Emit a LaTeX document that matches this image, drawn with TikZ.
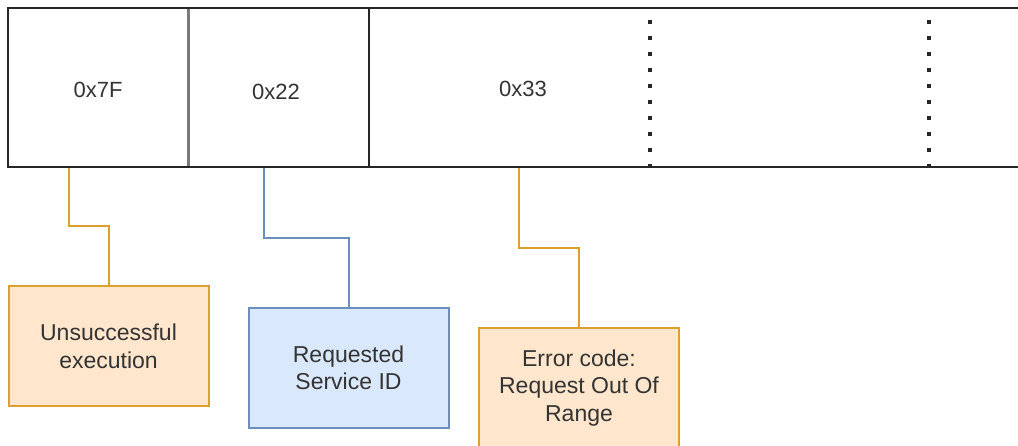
\documentclass[tikz,border=0pt]{standalone}
\usepackage{fontspec}
\setmainfont{Liberation Sans}
\definecolor{barline}{HTML}{262626}
\definecolor{sepgray}{HTML}{7A7A7A}
\definecolor{txt}{HTML}{333333}
\definecolor{orfill}{HTML}{FFE6CC}
\definecolor{ordraw}{HTML}{DAA22C}
\definecolor{blfill}{HTML}{DAE8FC}
\definecolor{bldraw}{HTML}{6C8EBF}
\tikzset{
  hexlabel/.style={text=txt, font=\fontsize{22}{26}\selectfont, inner sep=0pt},
  notebox/.style={minimum width=200pt, minimum height=120pt, inner sep=0pt,
    line width=2pt, align=center, text=txt,
    font=\fontsize{23}{27.5}\selectfont},
  orangebox/.style={notebox, fill=orfill, draw=ordraw},
  bluebox/.style={notebox, fill=blfill, draw=bldraw},
  orangelink/.style={draw=ordraw, line width=2pt},
  bluelink/.style={draw=bldraw, line width=2pt},
  dotsep/.style={draw=black!85, line width=3.2pt, dash pattern=on 3.2pt off 12.8pt}
}
\begin{document}
\begin{tikzpicture}[x=1pt, y=-1pt]
  \clip (0,0) rectangle (1018,446);
  \fill[white] (0,0) rectangle (1018,446);

  % message frame, open to the right
  \draw[barline, line width=2pt] (1030,8) -- (8,8) -- (8,167) -- (1030,167);
  \draw[sepgray, line width=3pt] (188,9) -- (188,166);
  \draw[barline, line width=2pt] (369,9) -- (369,166);
  \draw[dotsep] (650,20.4) -- (650,167.6);
  \draw[dotsep] (929,20.4) -- (929,167.6);

  % byte values
  \node[hexlabel] (b7f) at (98,90) {0x7F};
  \node[hexlabel] (b22) at (276,92) {0x22};
  \node[hexlabel] (b33) at (523,89) {0x33};

  % connector start points on the lower edge of the frame
  \coordinate (s1) at (69,168);
  \coordinate (s2) at (264,168);
  \coordinate (s3) at (519,168);

  % descriptions
  \node[orangebox] (d1) at (108.5,346.5) {Unsuccessful\\execution};
  \node[bluebox]   (d2) at (348.5,368)   {Requested\\Service ID};
  \node[orangebox] (d3) at (579,388)     {Error code:\\Request Out Of\\Range};

  % links
  \draw[orangelink] (s1) -- ++(0,58) -| (d1.north);
  \draw[bluelink]   (s2) -- ++(0,70) -| (d2.north);
  \draw[orangelink] (s3) -- ++(0,80) -| (d3.north);
\end{tikzpicture}
\end{document}
